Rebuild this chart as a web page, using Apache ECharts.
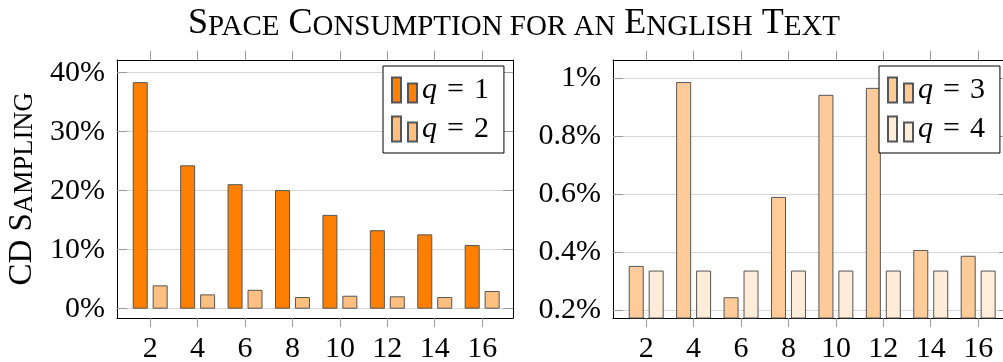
<!DOCTYPE html>
<html>
<head>
<meta charset="utf-8">
<script src="https://cdn.jsdelivr.net/npm/echarts@6.0.0/dist/echarts.min.js"></script>
<style>
  html, body { margin: 0; padding: 0; background: #fff; }
  #chart { width: 1003px; height: 362px; }
</style>
</head>
<body>
<div id="chart"></div>
<script>
// Block sizes (x) and space consumption in percent for each q
const blockSizes = [2, 4, 6, 8, 10, 12, 14, 16];
const spaceQ1 = [38.4, 24.3, 21.1, 20.1, 15.9, 13.3, 12.6, 10.8];
const spaceQ2 = [3.96, 2.43, 3.2, 1.98, 2.2, 2.1, 1.98, 3.0];
const spaceQ3 = [0.353, 0.987, 0.245, 0.591, 0.943, 0.967, 0.408, 0.388];
const spaceQ4 = [0.337, 0.337, 0.337, 0.337, 0.337, 0.337, 0.337, 0.337];
const leftTicks = [0, 10, 20, 30, 40];
const rightTicks = [0.2, 0.4, 0.6, 0.8, 1];
const seriesNames = ['q = 1', 'q = 2', 'q = 3', 'q = 4'];

const FONT = 'Liberation Serif';
const colors = ['#FF8000', '#FFBF80', '#FFCC99', '#FFECD9'];

const chart = echarts.init(document.getElementById('chart'), null, { renderer: 'canvas' });

const X_MIN = 0.6, X_MAX = 17.3;
const gridLeft = [117, 613];

// plain serif style used for tick labels and legend text
const numStyle = { fontSize: 30, fontFamily: FONT, fontWeight: 'normal', color: '#000' };

function xAxes(i) {
  const base = {
    type: 'value', gridIndex: i, min: X_MIN, max: X_MAX,
    axisLine: { show: true, onZero: false, lineStyle: { color: '#000', width: 1 } },
    axisTick: { show: true, inside: false, length: 9, customValues: blockSizes,
                lineStyle: { color: '#9a9a9a', width: 1 } },
    splitLine: { show: false }
  };
  return [
    Object.assign({}, base, {
      position: 'bottom',
      axisLabel: Object.assign({ show: true, customValues: blockSizes, margin: 16,
                   formatter: v => '{n|' + v + '}', rich: { n: numStyle } }, numStyle)
    }),
    Object.assign({}, base, { position: 'top', axisLabel: { show: false } })
  ];
}

function yAxes(i, min, max, ticks, withName) {
  const common = {
    type: 'value', gridIndex: i, min: min, max: max,
    axisLine: { show: true, onZero: false, lineStyle: { color: '#000', width: 1 } },
    axisTick: { show: true, inside: true, length: 10, customValues: ticks,
                lineStyle: { color: '#9a9a9a', width: 1 } }
  };
  const left = Object.assign({}, common, {
    position: 'left',
    axisLabel: Object.assign({ show: true, customValues: ticks, margin: 12,
                 formatter: v => '{n|' + v + '%}', rich: { n: numStyle } }, numStyle),
    splitLine: { show: true, lineStyle: { color: '#d6d6d6', width: 1 } }
  });
  if (withName) {
    Object.assign(left, {
      name: '{b|CD S}{s|AMPLING}',
      nameLocation: 'middle',
      nameGap: 78,
      nameRotate: 90,
      nameTextStyle: {
        color: '#000', fontFamily: FONT, fontWeight: 'normal',
        rich: {
          b: { fontSize: 33, fontFamily: FONT, fontWeight: 'normal', color: '#000', verticalAlign: 'bottom', lineHeight: 38 },
          s: { fontSize: 26.5, fontFamily: FONT, fontWeight: 'normal', color: '#000', verticalAlign: 'bottom', lineHeight: 33 }
        }
      }
    });
  }
  const right = Object.assign({}, common, {
    position: 'right',
    axisLabel: { show: false },
    splitLine: { show: false }
  });
  return [left, right];
}

function barSeries(name, values, color, xi, yi) {
  return {
    name: name, type: 'bar', xAxisIndex: xi, yAxisIndex: yi,
    barWidth: 15, barGap: '33%',
    itemStyle: { color: color, borderColor: '#555', borderWidth: 1 },
    data: blockSizes.map((x, k) => [x, values[k]])
  };
}

function legend(names, left) {
  return {
    orient: 'vertical', left: left, top: 66,
    padding: [9, 15, 9, 8], itemGap: 9,
    itemWidth: 25, itemHeight: 25,
    icon: 'path://M0,0h9v25h-9zM16,6h9v19h-9z',
    backgroundColor: '#fff', borderColor: '#000', borderWidth: 1, borderRadius: 0,
    data: names,
    formatter: n => '{i|q}{n|\u2004=\u2004' + n.split('=')[1].trim() + '}',
    textStyle: Object.assign({
      rich: { i: Object.assign({}, numStyle, { fontStyle: 'italic' }), n: numStyle }
    }, numStyle)
  };
}

const tb = { fontSize: 36, fontFamily: FONT, fontWeight: 'normal', color: '#000', verticalAlign: 'bottom', lineHeight: 40 };
const ts = { fontSize: 29, fontFamily: FONT, fontWeight: 'normal', color: '#000', verticalAlign: 'bottom', lineHeight: 34 };

const option = {
  backgroundColor: '#fff',
  animation: false,
  textStyle: { fontFamily: FONT },
  title: {
    text: '{b|S}{s|PACE}{b| C}{s|ONSUMPTION FOR AN}{b| E}{s|NGLISH}{b| T}{s|EXT}',
    left: 509, top: -3, textAlign: 'center',
    textStyle: { fontFamily: FONT, fontWeight: 'normal', color: '#000', rich: { b: tb, s: ts } }
  },
  grid: gridLeft.map(l => ({
    left: l, top: 60, width: 396, height: 258, show: false, outerBoundsMode: 'none'
  })),
  xAxis: xAxes(0).concat(xAxes(1)),
  yAxis: yAxes(0, -1.576, 42.15, leftTicks, true).concat(yAxes(1, 0.1734, 1.0631, rightTicks, false)),
  legend: [legend(seriesNames.slice(0, 2), 383), legend(seriesNames.slice(2, 4), 879)],
  series: [
    barSeries(seriesNames[0], spaceQ1, colors[0], 0, 0),
    barSeries(seriesNames[1], spaceQ2, colors[1], 0, 0),
    barSeries(seriesNames[2], spaceQ3, colors[2], 2, 2),
    barSeries(seriesNames[3], spaceQ4, colors[3], 2, 2)
  ]
};

chart.setOption(option);
</script>
</body>
</html>
